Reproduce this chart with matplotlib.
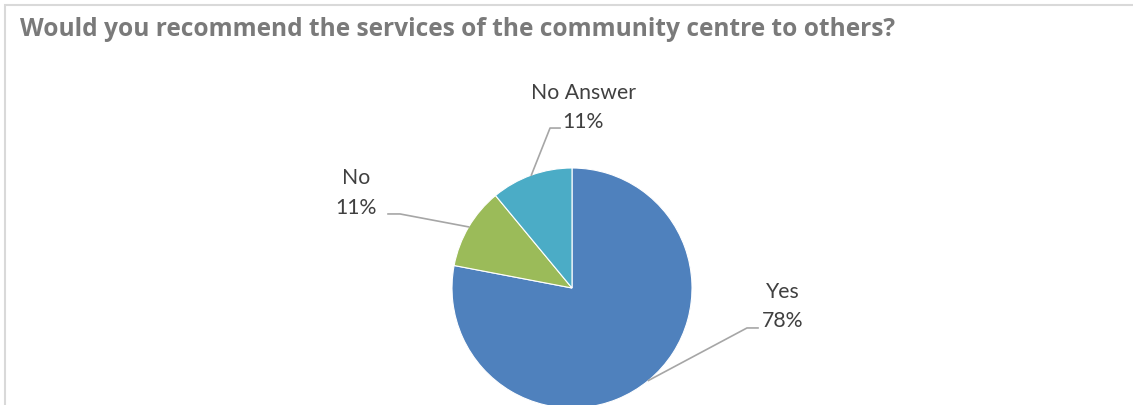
import numpy as np
import matplotlib
matplotlib.use('Agg')
import matplotlib.pyplot as plt
from matplotlib.patches import Rectangle

# Survey answers
answers = ['Yes', 'No', 'No Answer']
shares = [78, 11, 11]
colours = ['#4F81BD', '#9BBB59', '#4BACC6']

title = 'Would you recommend the services of the community centre to others?'

plt.rcParams['font.family'] = ['Lato', 'DejaVu Sans']

W, H = 1133, 405
fig = plt.figure(figsize=(W / 100, H / 100), dpi=100)

# chart frame (only top and left edges fall inside the image)
fig.patches.append(Rectangle((5 / W, -0.1), 1.2, (H - 5) / H + 0.1,
                             transform=fig.transFigure, fill=False,
                             edgecolor='#d9d9d9', linewidth=1.5))

fig.text(20 / W, 1 - 29 / H, title, fontsize=17.65, fontweight='bold',
         family=['Open Sans', 'DejaVu Sans'],
         color='#7a7a7a', va='center', ha='left')

# pie placed with center at (572, 288) px, radius 120 px
cx, cy, r = 572, 288, 120
ax = fig.add_axes([(cx - r) / W, (H - cy - r) / H, 2 * r / W, 2 * r / H])
wedges, _ = ax.pie(shares, colors=colours, startangle=90, counterclock=False,
                   radius=1, wedgeprops=dict(edgecolor='white', linewidth=0.8))
ax.set_xlim(-1, 1)
ax.set_ylim(-1, 1)
ax.set_aspect('equal')
ax.axis('off')
for w in wedges:
    w.set_clip_on(False)

# label centres and leader line ends/elbows (in radius units)
label_pos = {
    'Yes': ((1.758, -0.154), (1.55, -0.333), (1.458, -0.333)),
    'No': ((-1.80, 0.79), (-1.533, 0.617), (-1.433, 0.617)),
    'No Answer': ((0.092, 1.504), (-0.10, 1.333), (-0.183, 1.333)),
}

for w, name, pct in zip(wedges, answers, shares):
    mid = np.deg2rad((w.theta1 + w.theta2) / 2)
    edge = (np.cos(mid), np.sin(mid))
    (tx, ty), end, elbow = label_pos[name]
    ax.plot([edge[0], elbow[0], end[0]], [edge[1], elbow[1], end[1]],
            color='#a6a6a6', linewidth=1.2, clip_on=False)
    ax.text(tx, ty, f'{name}\n{pct}%', ha='center', va='center',
            fontsize=15.3, color='#404040', linespacing=1.6)

fig.savefig('out.png', dpi=100)
